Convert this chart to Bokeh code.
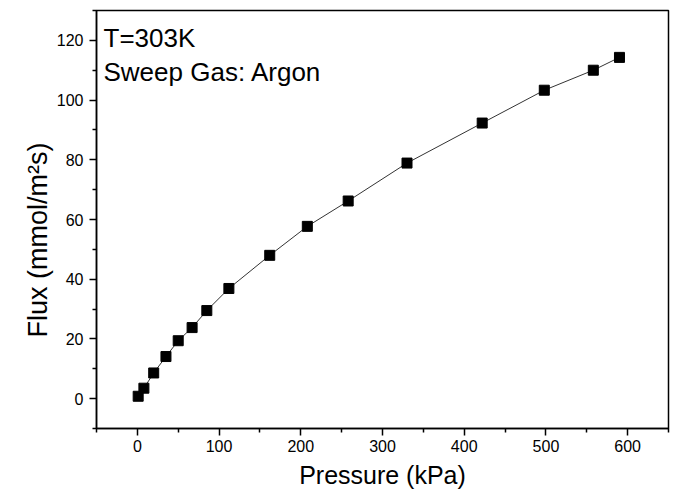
from bokeh.plotting import figure
from bokeh.models import Range1d, FixedTicker, Label, Title
from bokeh.embed import file_html
from bokeh.resources import INLINE

pressure = [1, 8, 20, 35, 50, 67, 85, 112, 162, 208, 258, 330, 422, 498, 558, 590]
flux = [0.8, 3.5, 8.6, 14.1, 19.4, 23.8, 29.5, 36.9, 48.0, 57.7, 66.2, 78.9, 92.3, 103.3, 110.0, 114.3]

x_ticks = [0, 100, 200, 300, 400, 500, 600]
y_ticks = [0, 20, 40, 60, 80, 100, 120]

FONT = "Liberation Sans"

p = figure(width=680, height=496, output_backend="svg", toolbar_location=None,
           x_range=Range1d(-50, 650), y_range=Range1d(-10, 130),
           min_border_left=96, min_border_right=12, min_border_top=10, min_border_bottom=68)
p.grid.visible = False
p.outline_line_color = "black"
p.outline_line_width = 1.5
p.background_fill_color = "white"
p.border_fill_color = "white"

p.line(pressure, flux, line_color="#333333", line_width=1)
p.scatter(pressure, flux, marker="square", size=10, fill_color="black", line_color="black")

p.xaxis.ticker = FixedTicker(ticks=x_ticks, minor_ticks=[-50, 50, 150, 250, 350, 450, 550, 650])
p.yaxis.ticker = FixedTicker(ticks=y_ticks, minor_ticks=[-10, 10, 30, 50, 70, 90, 110, 130])

for ax in (p.xaxis[0], p.yaxis[0]):
    ax.axis_line_width = 1.5
    ax.axis_line_color = "black"
    ax.major_tick_line_width = 1.5
    ax.minor_tick_line_width = 1.5
    ax.major_tick_out = 7
    ax.major_tick_in = 0
    ax.minor_tick_out = 4
    ax.minor_tick_in = 0
    ax.major_label_text_font = FONT
    ax.major_label_text_font_size = "16px"
    ax.major_label_text_color = "black"
    ax.axis_label_text_font = FONT
    ax.axis_label_text_font_size = "25px"
    ax.axis_label_text_font_style = "normal"
    ax.axis_label_text_color = "black"

p.xaxis.axis_label = "Pressure (kPa)"
p.xaxis.axis_label_standoff = 6
p.xaxis.major_label_standoff = 4
p.yaxis.major_label_standoff = 6

# y title as a side Title so it can be shifted along the axis like the reference
p.add_layout(Title(text="Flux (mmol/m²s)", align="left", offset=91, standoff=2,
                   text_font=FONT, text_font_size="27px", text_font_style="normal",
                   text_color="black"), "left")

p.add_layout(Label(x=7, y=406, x_units="screen", y_units="screen", text="T=303K",
                   text_font=FONT, text_font_size="26px", text_color="black", text_baseline="top"))
p.add_layout(Label(x=7, y=372, x_units="screen", y_units="screen", text="Sweep Gas: Argon",
                   text_font=FONT, text_font_size="26px", text_color="black", text_baseline="top"))

open("out.html", "w").write(file_html(p, INLINE))
